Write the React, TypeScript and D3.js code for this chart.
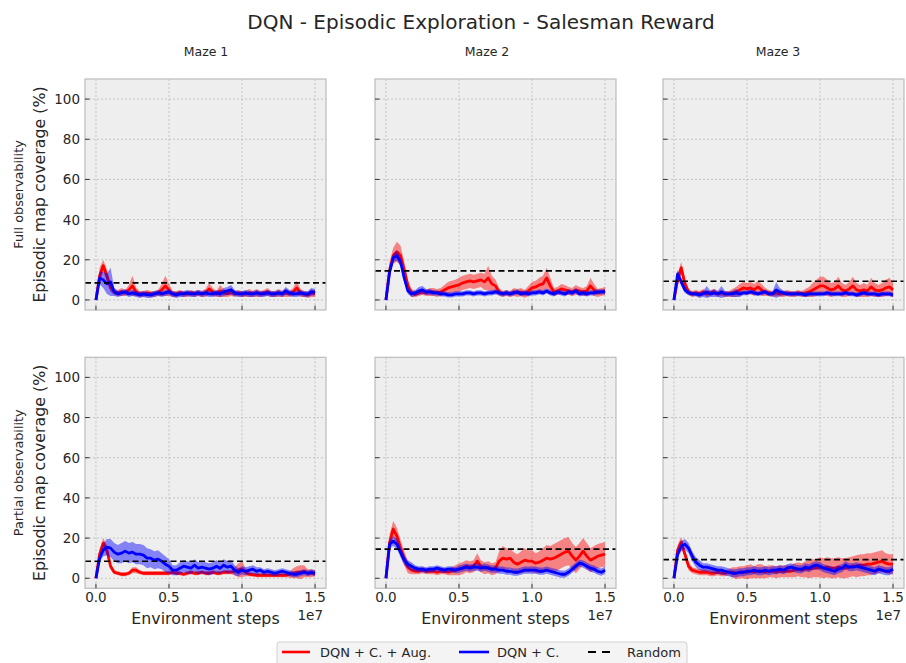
import React from 'react';
import * as d3 from 'd3';

// ---------- data ----------
const STEP_SIZE = 250000; // sampling grid of environment steps
const STEP_COUNT = 61;
const MAZES = ['Maze 1', 'Maze 2', 'Maze 3'];
const ROWS = ['Full observability', 'Partial observability'];
const RANDOM_LEVEL = [8.5, 14.5, 9.3];
const X_TICKS = [0, 5e6, 1e7, 1.5e7];
const X_TICK_LABELS = ['0.0', '0.5', '1.0', '1.5'];
const Y_TICKS = [0, 20, 40, 60, 80, 100];
const SERIES_NAMES = ['DQN + C. + Aug.', 'DQN + C.', 'Random'];

// Full observability
const full1AugMean = [0, 12, 17, 12, 6, 4, 3.5, 4, 3.5, 5, 7, 4, 3, 3, 3.5, 3, 3, 3.5, 5, 7, 5, 3, 3, 3.5, 3, 3, 3.5, 3, 3.5, 3, 3.5, 5.5, 4, 3, 4.5, 3.5, 3, 4, 3, 3.5, 3, 3, 3.5, 3, 3.5, 3, 3.5, 4, 3, 3, 3.5, 3, 3.5, 3, 4, 6, 3.5, 3, 2.5, 3.5, 3];
const full1AugSpread = [0, 4, 3, 3, 2, 1.5, 1.5, 2, 1.5, 2.5, 5, 2, 1.5, 1.5, 1.5, 1.5, 1.5, 1.5, 3, 5, 3, 1.5, 1.5, 1.5, 1.5, 1.5, 1.5, 1.5, 1.5, 1.5, 2, 3, 2, 1.5, 3, 2, 1.5, 2, 1.5, 1.5, 1.5, 1.5, 2, 1.5, 2, 1.5, 1.5, 2, 1.5, 1.5, 2, 1.5, 2, 1.5, 2, 3.5, 2, 1.5, 1.5, 2, 1.5];
const full1CMean = [0, 11, 10, 8, 9, 4, 3, 3.5, 4, 3, 3.5, 3, 2.5, 3, 2.5, 2.5, 3, 3.5, 3, 3.5, 4, 3, 2.5, 3, 3, 3.5, 3, 3, 3.5, 3, 3.5, 3, 3, 3.5, 3, 4, 4.5, 5, 3.5, 3, 3, 3.5, 3, 3, 3.5, 3, 3, 3.5, 3, 3, 3.5, 3, 4.5, 3.5, 3, 3, 3.5, 3, 3, 4, 4];
const full1CSpread = [0, 3, 4, 5, 7, 2, 1.5, 1.5, 1.5, 1.5, 1.5, 1.5, 1.5, 1.5, 1.5, 1.5, 1.5, 1.5, 1.5, 1.5, 1.5, 1.5, 1.5, 1.5, 1.5, 1.5, 1.5, 1.5, 1.5, 1.5, 1.5, 1.5, 1.5, 1.5, 1.5, 2, 2, 2.5, 1.5, 1.5, 1.5, 1.5, 1.5, 1.5, 1.5, 1.5, 1.5, 1.5, 1.5, 1.5, 1.5, 1.5, 2, 1.5, 1.5, 1.5, 1.5, 1.5, 1.5, 2, 1.5];

const full2AugMean = [0, 15, 22, 24, 22, 15, 7, 3.5, 2.8, 3.5, 4, 3.5, 4, 4, 3.5, 4, 5, 6, 6.5, 7, 7.5, 8.5, 9, 9.5, 9, 9.5, 10, 9, 11, 8, 7, 4, 3, 3.5, 3, 4, 3.5, 4, 3, 4.5, 6, 6.5, 7.5, 8, 11, 7, 4, 4.5, 5.5, 5, 4.5, 4, 5, 4.5, 4, 4.5, 7, 5, 3.5, 4, 4.5];
const full2AugSpread = [0, 4, 4, 5, 5, 4, 3, 2, 1.5, 1.5, 1.5, 1.5, 2, 2, 2, 2, 2.5, 3, 3, 3, 3.5, 3.5, 3.5, 3.5, 3.5, 3.5, 3.5, 4, 6, 4, 3, 2, 1.5, 1.5, 1.5, 2, 2, 2, 2, 2.5, 3, 3, 3.5, 4, 5, 4, 2, 2, 2.5, 2.5, 2, 2, 2.5, 2, 2, 2.5, 4, 3, 2, 2, 2];
const full2CMean = [0, 14, 21, 22, 19, 11, 4.5, 3, 3.5, 4.5, 5, 4, 4, 3.5, 3.5, 3, 3, 2.5, 2.5, 3, 3, 3, 3.5, 3.5, 3, 3.5, 3.5, 3, 3.5, 3.5, 4, 3.5, 3, 3.5, 3, 3.5, 4, 3, 3.5, 3, 3.5, 3.5, 4, 3.5, 4.5, 3.5, 3, 4, 3.5, 3, 4, 3.5, 4.5, 3, 3.5, 3, 3.5, 3.5, 4, 4, 4];
const full2CSpread = [0, 2, 2, 2.5, 2, 2, 1.5, 1.5, 1.5, 2, 2, 1.5, 1.5, 1.3, 1.3, 1.3, 1.3, 1.3, 1.3, 1.3, 1.3, 1.3, 1.3, 1.3, 1.3, 1.3, 1.3, 1.3, 1.3, 1.3, 1.3, 1.3, 1.3, 1.3, 1.3, 1.3, 1.3, 1.3, 1.3, 1.3, 1.3, 1.3, 1.3, 1.3, 1.3, 1.3, 1.3, 1.3, 1.3, 1.3, 1.3, 1.3, 1.3, 1.3, 1.3, 1.3, 1.3, 1.3, 1.3, 1.3, 1.3];

const full3AugMean = [0, 10, 16, 8, 4, 3, 3.5, 3, 4, 3, 3.5, 4, 3, 3.5, 3, 3, 3.5, 4, 5, 6, 5.5, 6, 5, 6.5, 5, 4, 3.5, 3, 3.5, 3, 3, 3.5, 3, 3, 3.5, 3, 3.5, 4, 5, 6, 7, 7, 6, 5, 5.5, 7, 5, 4.5, 5.5, 7, 5, 4.5, 5, 4.5, 6.5, 5, 4.5, 5, 6, 6.5, 5];
const full3AugSpread = [0, 3, 3, 3, 1.5, 1.5, 1.5, 1.5, 1.5, 1.5, 1.5, 1.5, 1.5, 1.5, 1.5, 1.5, 2, 2.5, 3, 3, 3, 3, 3, 3, 3, 2, 1.5, 1.5, 1.5, 1.5, 1.5, 1.5, 1.5, 1.5, 1.5, 1.5, 2, 2.5, 3.5, 4, 4.5, 4.5, 4, 3.5, 3.5, 4.5, 3.5, 3, 3.5, 4.5, 3.5, 3, 3.5, 3, 4.5, 3.5, 3, 3.5, 4, 4.5, 3.5];
const full3CMean = [0, 13, 9, 5, 3.5, 3, 3, 2.5, 3, 4, 3, 3.5, 3, 4, 3, 3, 3, 3.5, 3, 3.5, 3.5, 4, 3.5, 3, 3.5, 4, 3, 3, 5, 4, 3.5, 3, 3, 3, 3, 3, 2.5, 3, 3, 3, 3, 3, 3.5, 3, 3, 3, 3, 3.5, 3, 3, 2.5, 3, 3.5, 3, 3, 3, 2.5, 3, 3, 3, 2.5];
const full3CSpread = [0, 2, 2, 1.5, 1.2, 1.2, 1.2, 1.5, 1.5, 3, 1.5, 2, 1.5, 3, 1.5, 1.2, 1.5, 2, 1.5, 1.2, 1.2, 1.2, 1.2, 1.2, 1.2, 1.2, 1.2, 1.2, 4, 2, 1.2, 1.2, 1.2, 1.2, 1.2, 1.2, 1.2, 1.2, 1.2, 1.2, 1.2, 1.2, 1.2, 1.2, 1.2, 1.2, 1.2, 1.2, 1.2, 1.2, 1.2, 1.2, 1.2, 1.2, 1.2, 1.2, 1.2, 1.2, 1.2, 1.2, 1.2];

// Partial observability
const part1AugMean = [0, 12, 17.5, 14, 6, 3, 2.5, 2, 2, 2.5, 4, 4, 3, 2.5, 2.5, 2.5, 2.5, 2.5, 2.5, 2.5, 2.5, 3, 2.5, 2.5, 2, 2.5, 3, 2.5, 2.5, 3, 2.5, 2.5, 3, 2.5, 2.5, 3, 3, 3, 3.5, 4, 4.5, 3, 2, 1.8, 1.5, 1.5, 1.5, 1.5, 1.5, 1.5, 1.5, 1.5, 1.5, 1.8, 2.5, 3, 3, 3.5, 2.5, 2.5, 2.5];
const part1AugSpread = [0, 2.5, 2.5, 2.5, 1.5, 1, 1, 1, 1, 1, 1.5, 1.5, 1, 1, 1, 1, 1, 1, 1, 1, 1, 1, 1, 1, 1, 1, 1, 1, 1, 1, 1, 1, 1, 1, 1, 1, 1, 1, 2, 3.5, 4, 2, 1, 1, 1, 1, 1, 1, 1, 1, 1, 1, 1, 1.5, 2.5, 3, 3.5, 3, 2, 2, 1.5];
const part1CMean = [0, 10, 14, 15.5, 15, 13, 12, 12.5, 13.5, 12.5, 13, 12, 12, 11.5, 10, 10, 9, 9.5, 8.5, 7, 6, 4, 4, 5, 6, 5.5, 5, 6.5, 5, 5.5, 5, 4.5, 5, 6, 5, 6.5, 5.5, 6, 4, 3, 4, 3.5, 4, 4.5, 3.5, 4, 3, 3.5, 3, 2.5, 3, 3.5, 3, 2.5, 2, 2, 2.5, 3, 2.5, 3, 2.5];
const part1CSpread = [0, 2, 3, 4, 4.5, 4.5, 4.5, 5, 5, 5, 5, 5, 5, 5, 5, 4.5, 4.5, 4.5, 4, 4, 3.5, 2.5, 2.5, 3, 3, 3, 3, 3, 3, 3, 3, 3, 3, 3, 3, 3, 3, 3, 2.5, 2, 2, 2, 2, 2, 2, 1.5, 1.5, 1.5, 1.5, 1.5, 1.5, 1.5, 1.5, 1.5, 1.5, 1.5, 1.5, 1.5, 1.5, 1.5, 1.5];

const part2AugMean = [0, 18, 24.5, 21, 15, 10, 5.5, 4, 3.5, 3.5, 4, 3.5, 3.5, 3.5, 3, 3.5, 3.5, 3, 3.5, 4, 4.5, 5, 6, 5.5, 6, 8.5, 6, 5, 5.5, 4.5, 5, 8.5, 10, 9.5, 10, 8, 7, 8, 9, 8.5, 8.5, 7.5, 8, 9, 10, 9.5, 10, 11, 12, 13, 13.5, 11, 9, 11, 13.5, 11, 9, 10, 11, 11.5, 12];
const part2AugSpread = [0, 4, 4, 4, 4, 3.5, 3, 2, 1.5, 1.5, 1.5, 1.5, 1.5, 1.5, 1.5, 1.5, 1.5, 1.5, 2, 2.5, 3, 3, 3, 3, 3, 4, 3, 3, 3, 3, 3, 5, 6, 5.5, 5, 5, 5, 5.5, 6, 5.5, 5.5, 5, 5.5, 6, 6.5, 6.5, 7, 7, 7, 7, 7, 6.5, 6.5, 6.5, 6.5, 6.5, 6, 6, 6, 6, 6];
const part2CMean = [0, 17, 18.5, 17, 13, 9, 7, 6, 5, 4.5, 4.5, 4, 4.5, 4.5, 5, 4.5, 4, 4.5, 4.5, 4, 4.5, 5, 5.5, 5, 5.5, 5.5, 5, 5.5, 5, 4.5, 4.5, 4, 4, 3.5, 3.5, 3, 3, 3.5, 4, 4, 4, 4, 3.5, 3.5, 4, 3.5, 3, 2.5, 2, 2, 3, 4.5, 6, 7.5, 7, 6, 5, 4.5, 3.5, 3, 4];
const part2CSpread = [0, 2, 2.5, 2.5, 2.5, 2.5, 2, 2, 1.5, 1.5, 1.5, 1.5, 1.5, 1.5, 1.5, 1.5, 1.5, 1.5, 1.5, 1.5, 1.8, 1.8, 1.8, 1.8, 1.8, 1.8, 1.8, 1.8, 1.8, 1.8, 1.8, 1.8, 1.8, 1.8, 1.8, 1.8, 1.8, 1.8, 1.8, 1.8, 1.8, 1.8, 1.8, 1.8, 1.8, 1.8, 1.8, 1.8, 1.8, 1.8, 1.8, 1.8, 1.8, 1.8, 1.8, 1.8, 1.8, 1.8, 1.8, 1.8, 1.8];

const part3AugMean = [0, 14, 18, 12, 6, 4, 3.5, 3, 3, 3, 2.5, 2.5, 3, 2.5, 2.5, 3, 3, 2.5, 3, 3, 3, 3.5, 3, 3.5, 3.5, 3, 3.5, 3.5, 3, 3.5, 3.5, 3.5, 3.5, 4, 4.5, 4, 4.5, 4.5, 5, 5, 5.5, 5, 5.5, 5, 5, 5.5, 5, 5, 5.5, 6, 6, 6.5, 6.5, 7, 7, 7.5, 8, 8.5, 7.5, 7, 7];
const part3AugSpread = [0, 2.5, 2.5, 2.5, 2, 1.5, 1.5, 1.5, 1.5, 1.5, 1.5, 1.5, 1.5, 1.5, 1.5, 1.5, 2.5, 3, 3, 3, 3.5, 3.5, 3, 3.5, 3.5, 3, 3, 3, 3, 3, 3, 3, 3, 3.5, 3.5, 3.5, 4, 4.5, 4.5, 4.5, 5, 5, 5, 5, 5, 5, 5, 5, 5, 5, 5.5, 5.5, 5.5, 5.5, 5.5, 5.5, 5.5, 5.5, 5, 5, 5];
const part3CMean = [0, 12, 16, 17, 15, 11, 8, 6.5, 5.5, 5.5, 5, 4.5, 4, 4, 3.5, 3, 2.5, 2.5, 3, 3, 3.5, 3.5, 4, 3.5, 3.5, 4, 3.5, 4, 4, 4.5, 4, 5, 5.5, 5, 4.5, 4.5, 5.5, 5, 6, 6.5, 6, 5, 4.5, 4, 3.5, 4.5, 5, 6.5, 5.5, 5.5, 6, 5.5, 5, 4.5, 4, 3.5, 4.5, 4, 3.5, 3.5, 4.5];
const part3CSpread = [0, 2, 2.5, 2.5, 2.5, 2.5, 2.5, 2.5, 2, 2, 2, 2, 2, 2, 2, 2, 2, 2, 2, 2, 2, 2, 2, 2, 2, 2, 2, 2, 2, 2, 2, 2, 2, 2, 2, 2, 2, 2, 2, 2, 2, 2, 2, 2, 2, 2, 2, 2, 2, 2, 2, 2, 2, 2, 2, 2, 2, 2, 2, 2, 2];

const PANELS = [
  { row: 0, col: 0, augMean: full1AugMean, augSpread: full1AugSpread, cMean: full1CMean, cSpread: full1CSpread },
  { row: 0, col: 1, augMean: full2AugMean, augSpread: full2AugSpread, cMean: full2CMean, cSpread: full2CSpread },
  { row: 0, col: 2, augMean: full3AugMean, augSpread: full3AugSpread, cMean: full3CMean, cSpread: full3CSpread },
  { row: 1, col: 0, augMean: part1AugMean, augSpread: part1AugSpread, cMean: part1CMean, cSpread: part1CSpread },
  { row: 1, col: 1, augMean: part2AugMean, augSpread: part2AugSpread, cMean: part2CMean, cSpread: part2CSpread },
  { row: 1, col: 2, augMean: part3AugMean, augSpread: part3AugSpread, cMean: part3CMean, cSpread: part3CSpread },
];

// ---------- layout ----------
const W = 906;
const H = 663;
const PANEL_LEFT = [85, 375, 663];
const PANEL_W = 241;
const PANEL_TOP = [79, 357.3];
const PANEL_H = 231;
const MAZE_LABEL_X = [206, 487, 778];
const FONT = 'DejaVu Sans, Liberation Sans, sans-serif';
const RED = '#ff0000';
const BLUE = '#0000ff';

type Pt = { x: number; m: number; s: number };

function toPoints(mean: number[], spread: number[]): Pt[] {
  return mean.slice(0, STEP_COUNT).map((m, i) => ({ x: i * STEP_SIZE, m, s: spread[i] }));
}

function Panel({ p }: { p: typeof PANELS[number] }) {
  const left = PANEL_LEFT[p.col];
  const top = PANEL_TOP[p.row];
  const x = d3.scaleLinear().domain([-0.075e7, 1.575e7]).range([left, left + PANEL_W]);
  const y = d3.scaleLinear().domain([-5, 110]).range([top + PANEL_H, top]);
  const line = d3.line<Pt>().x(d => x(d.x)).y(d => y(d.m));
  const area = d3.area<Pt>().x(d => x(d.x)).y0(d => y(d.m - d.s)).y1(d => y(d.m + d.s));
  const aug = toPoints(p.augMean, p.augSpread);
  const c = toPoints(p.cMean, p.cSpread);
  const clipId = `clip-${p.row}-${p.col}`;
  const bottom = top + PANEL_H;
  return (
    <g>
      <defs>
        <clipPath id={clipId}>
          <rect x={left} y={top} width={PANEL_W} height={PANEL_H} />
        </clipPath>
      </defs>
      <rect x={left} y={top} width={PANEL_W} height={PANEL_H} fill="#eeeeee" />
      {X_TICKS.map(t => (
        <line key={'gx' + t} x1={x(t)} x2={x(t)} y1={top} y2={bottom} stroke="#b2b2b2" strokeWidth={0.7} strokeDasharray="2,2" />
      ))}
      {Y_TICKS.map(t => (
        <line key={'gy' + t} x1={left} x2={left + PANEL_W} y1={y(t)} y2={y(t)} stroke="#b2b2b2" strokeWidth={0.7} strokeDasharray="2,2" />
      ))}
      <g clipPath={`url(#${clipId})`}>
        <path d={area(aug) || ''} fill={RED} fillOpacity={0.45} />
        <path d={line(aug) || ''} fill="none" stroke={RED} strokeWidth={2.8} strokeLinejoin="round" />
        <path d={area(c) || ''} fill={BLUE} fillOpacity={0.45} />
        <path d={line(c) || ''} fill="none" stroke={BLUE} strokeWidth={2.8} strokeLinejoin="round" />
        <line x1={left} x2={left + PANEL_W} y1={y(RANDOM_LEVEL[p.col])} y2={y(RANDOM_LEVEL[p.col])} stroke="#000" strokeWidth={1.6} strokeDasharray="6,3.5" />
      </g>
      <rect x={left} y={top} width={PANEL_W} height={PANEL_H} fill="none" stroke="#bcbcbc" strokeWidth={1.2} />
      {X_TICKS.map(t => (
        <line key={'tx' + t} x1={x(t)} x2={x(t)} y1={bottom} y2={bottom - 4.5} stroke="#333" strokeWidth={1} />
      ))}
      {Y_TICKS.map(t => (
        <line key={'ty' + t} x1={left} x2={left + 4.5} y1={y(t)} y2={y(t)} stroke="#333" strokeWidth={1} />
      ))}
      {p.col === 0 && Y_TICKS.map(t => (
        <text key={'ly' + t} x={left - 5} y={y(t)} textAnchor="end" dominantBaseline="central" fontSize={13.5} fill="#262626" fontFamily={FONT}>{t}</text>
      ))}
      {p.row === 1 && X_TICKS.map((t, i) => (
        <text key={'lx' + t} x={x(t)} y={bottom + 9} textAnchor="middle" dominantBaseline="central" fontSize={13.5} fill="#262626" fontFamily={FONT}>{X_TICK_LABELS[i]}</text>
      ))}
      {p.row === 1 && (
        <>
          <text x={left + PANEL_W / 2} y={618} textAnchor="middle" dominantBaseline="central" fontSize={15.8} fill="#262626" fontFamily={FONT}>Environment steps</text>
          <text x={left + PANEL_W - 3} y={615} textAnchor="end" dominantBaseline="central" fontSize={13.5} fill="#262626" fontFamily={FONT}>1e7</text>
        </>
      )}
      {p.col === 0 && (
        <>
          <text transform={`translate(39,${top + PANEL_H / 2}) rotate(-90)`} textAnchor="middle" dominantBaseline="central" fontSize={15.8} fill="#262626" fontFamily={FONT}>Episodic map coverage (%)</text>
          <text transform={`translate(18,${top + PANEL_H / 2}) rotate(-90)`} textAnchor="middle" dominantBaseline="central" fontSize={12.8} fill="#262626" fontFamily={FONT}>{ROWS[p.row]}</text>
        </>
      )}
    </g>
  );
}

export default function App() {
  const legendY = 652;
  return (
    <svg width={W} height={H} style={{ position: 'absolute', left: 0, top: 0, background: '#fff' }}>
      <rect x={0} y={0} width={W} height={H} fill="#fff" />
      <text x={481} y={22} textAnchor="middle" dominantBaseline="central" fontSize={20} fill="#262626" fontFamily={FONT}>DQN - Episodic Exploration - Salesman Reward</text>
      {MAZES.map((m, i) => (
        <text key={m} x={MAZE_LABEL_X[i]} y={51} textAnchor="middle" dominantBaseline="central" fontSize={12.5} fill="#262626" fontFamily={FONT}>{m}</text>
      ))}
      {PANELS.map(p => <Panel key={`${p.row}-${p.col}`} p={p} />)}
      <g>
        <rect x={277} y={642} width={410} height={28} rx={3} fill="#f4f4f4" stroke="#d0d0d0" strokeWidth={1} />
        <line x1={282} x2={310} y1={legendY} y2={legendY} stroke={RED} strokeWidth={2.6} />
        <text x={320} y={legendY} dominantBaseline="central" fontSize={13} fill="#262626" fontFamily={FONT}>{SERIES_NAMES[0]}</text>
        <line x1={459} x2={489} y1={legendY} y2={legendY} stroke={BLUE} strokeWidth={2.6} />
        <text x={497} y={legendY} dominantBaseline="central" fontSize={13} fill="#262626" fontFamily={FONT}>{SERIES_NAMES[1]}</text>
        <line x1={588} x2={613} y1={legendY} y2={legendY} stroke="#000" strokeWidth={2} strokeDasharray="8,6" />
        <text x={627} y={legendY} dominantBaseline="central" fontSize={13} fill="#262626" fontFamily={FONT}>{SERIES_NAMES[2]}</text>
      </g>
    </svg>
  );
}
